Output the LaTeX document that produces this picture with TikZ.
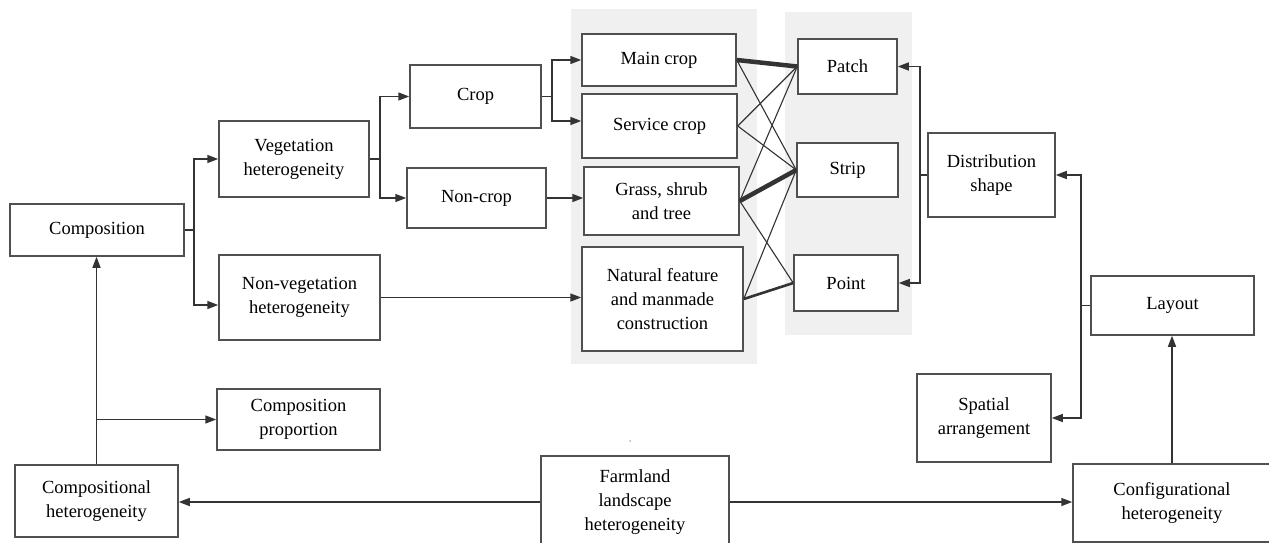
\documentclass[tikz,border=0pt]{standalone}
\usepackage{fontspec}
\setmainfont{Liberation Serif}
\newfontfamily\tnrfont{Liberation Serif}
\usetikzlibrary{arrows.meta,calc}
\definecolor{linec}{HTML}{333333}
\definecolor{boxc}{HTML}{505050}
\definecolor{panelc}{HTML}{F0F0F0}
\begin{document}
\begin{tikzpicture}[x=1pt,y=-1pt,
  box/.style={draw=boxc, line width=1.5pt, fill=white, align=center, inner sep=0pt,
              font=\tnrfont\fontsize{18.5}{24}\selectfont},
  wh/.style 2 args={minimum width=#1pt, minimum height=#2pt},
  conn/.style={draw=linec, line width=1.5pt},
  arr/.style={conn, -{Triangle[length=11pt,width=8pt]}},
  tiethin/.style={draw=linec, line width=1.1pt},
  tiemid/.style={draw=linec, line width=2.6pt},
  tiethick/.style={draw=linec, line width=4.5pt},
]
\useasboundingbox (0,0) rectangle (1269,543);
% grey panels
\fill[panelc] (571,9) rectangle (757,364);
\fill[panelc] (785,12) rectangle (912,335);
\fill[gray!60] (630,441) circle (1);

% nodes
\node[box, wh={174}{52}] (comp) at (97,230) {Composition};
\node[box, wh={150}{76}] (veg) at (294,159) {Vegetation\\heterogeneity};
\node[box, wh={161}{85}] (nonveg) at (299.5,297.5) {Non-vegetation\\heterogeneity};
\node[box, wh={131}{63}] (crop) at (475.5,96.5) {Crop};
\node[box, wh={139}{60}] (noncrop) at (476.5,198) {Non-crop};
\node[box, wh={154}{52}] (main) at (659,60) {Main crop};
\node[box, wh={155}{64}] (service) at (659.5,126) {Service crop};
\node[box, wh={155}{68}] (grass) at (661.5,201) {Grass, shrub\\and tree};
\node[box, wh={161}{104}] (natural) at (662.5,299) {Natural feature\\and manmade\\construction};
\node[box, wh={99}{55}] (patch) at (847.5,66.5) {Patch};
\node[box, wh={101}{54}] (strip) at (847.5,170) {Strip};
\node[box, wh={104}{56}] (point) at (846,283) {Point};
\node[box, wh={127}{84}] (dist) at (991.5,175) {Distribution\\shape};
\node[box, wh={163}{59}] (layout) at (1172.5,305.5) {Layout};
\node[box, wh={134}{88}] (spatial) at (984,418) {Spatial\\arrangement};
\node[box, wh={163}{61}] (compprop) at (298.5,419.5) {Composition\\proportion};
\node[box, wh={163}{72}] (compl) at (96.5,501) {Compositional\\heterogeneity};
\node[box, wh={188}{92}] (farm) at (635,502) {Farmland\\landscape\\heterogeneity};
\node[box, wh={198}{78}] (config) at (1172,503) {Configurational\\heterogeneity};

% junction coordinates
\coordinate (jc) at (194,230);
\coordinate (jv) at (380,159);
\coordinate (jcr) at (552,96.5);
\coordinate (jd) at (920,175);
\coordinate (jl) at (1081,305.5);
\coordinate (jp) at (96.5,419.5);

% composition branch
\draw[conn] (comp.east) -- (jc);
\draw[arr] (jc) |- (veg.west);
\draw[arr] (jc) |- ($(nonveg.west)+(0,7.5)$);
\draw[conn] (veg.east) -- (jv);
\draw[arr] (jv) |- (crop.west);
\draw[arr] (jv) |- (noncrop.west);
\draw[conn] (crop.east) -- (jcr);
\draw[arr] (jcr) |- (main.west);
\draw[arr] (jcr) |- ($(service.west)+(0,-5)$);
\draw[arr] (noncrop.east) -- (grass.west |- noncrop.east);
\draw[arr] (nonveg.east) -- (natural.west |- nonveg.east);

% ties to shapes
\draw[tiethick] (main.east) -- (patch.west);
\draw[tiethin] (main.east) -- (strip.west);
\draw[tiethin] (service.east) -- (patch.west);
\draw[tiethin] (service.east) -- (strip.west);
\draw[tiethin] (grass.east) -- (patch.west);
\draw[tiethick] (grass.east) -- (strip.west);
\draw[tiethin] (grass.east) -- (point.west);
\draw[tiethin] (natural.east) -- (strip.west);
\draw[tiemid] (natural.east) -- (point.west);

% distribution shape
\draw[conn] (dist.west |- jd) -- (jd);
\draw[arr] (jd) |- (patch.east);
\draw[arr] (jd) |- (point.east);

% layout
\draw[conn] (layout.west) -- (jl);
\draw[arr] (jl) |- (dist.east);
\draw[arr] (jl) |- (spatial.east);
\draw[arr] (config.north) -- (layout.south -| config.north);

% compositional
\draw[arr] (compl.north) -- (comp.south -| compl.north);
\draw[arr] (jp) -- (compprop.west);

% farmland
\draw[arr] (farm.west) -- (compl.east |- farm.west);
\draw[arr] (farm.east) -- (config.west |- farm.east);
\end{tikzpicture}
\end{document}
